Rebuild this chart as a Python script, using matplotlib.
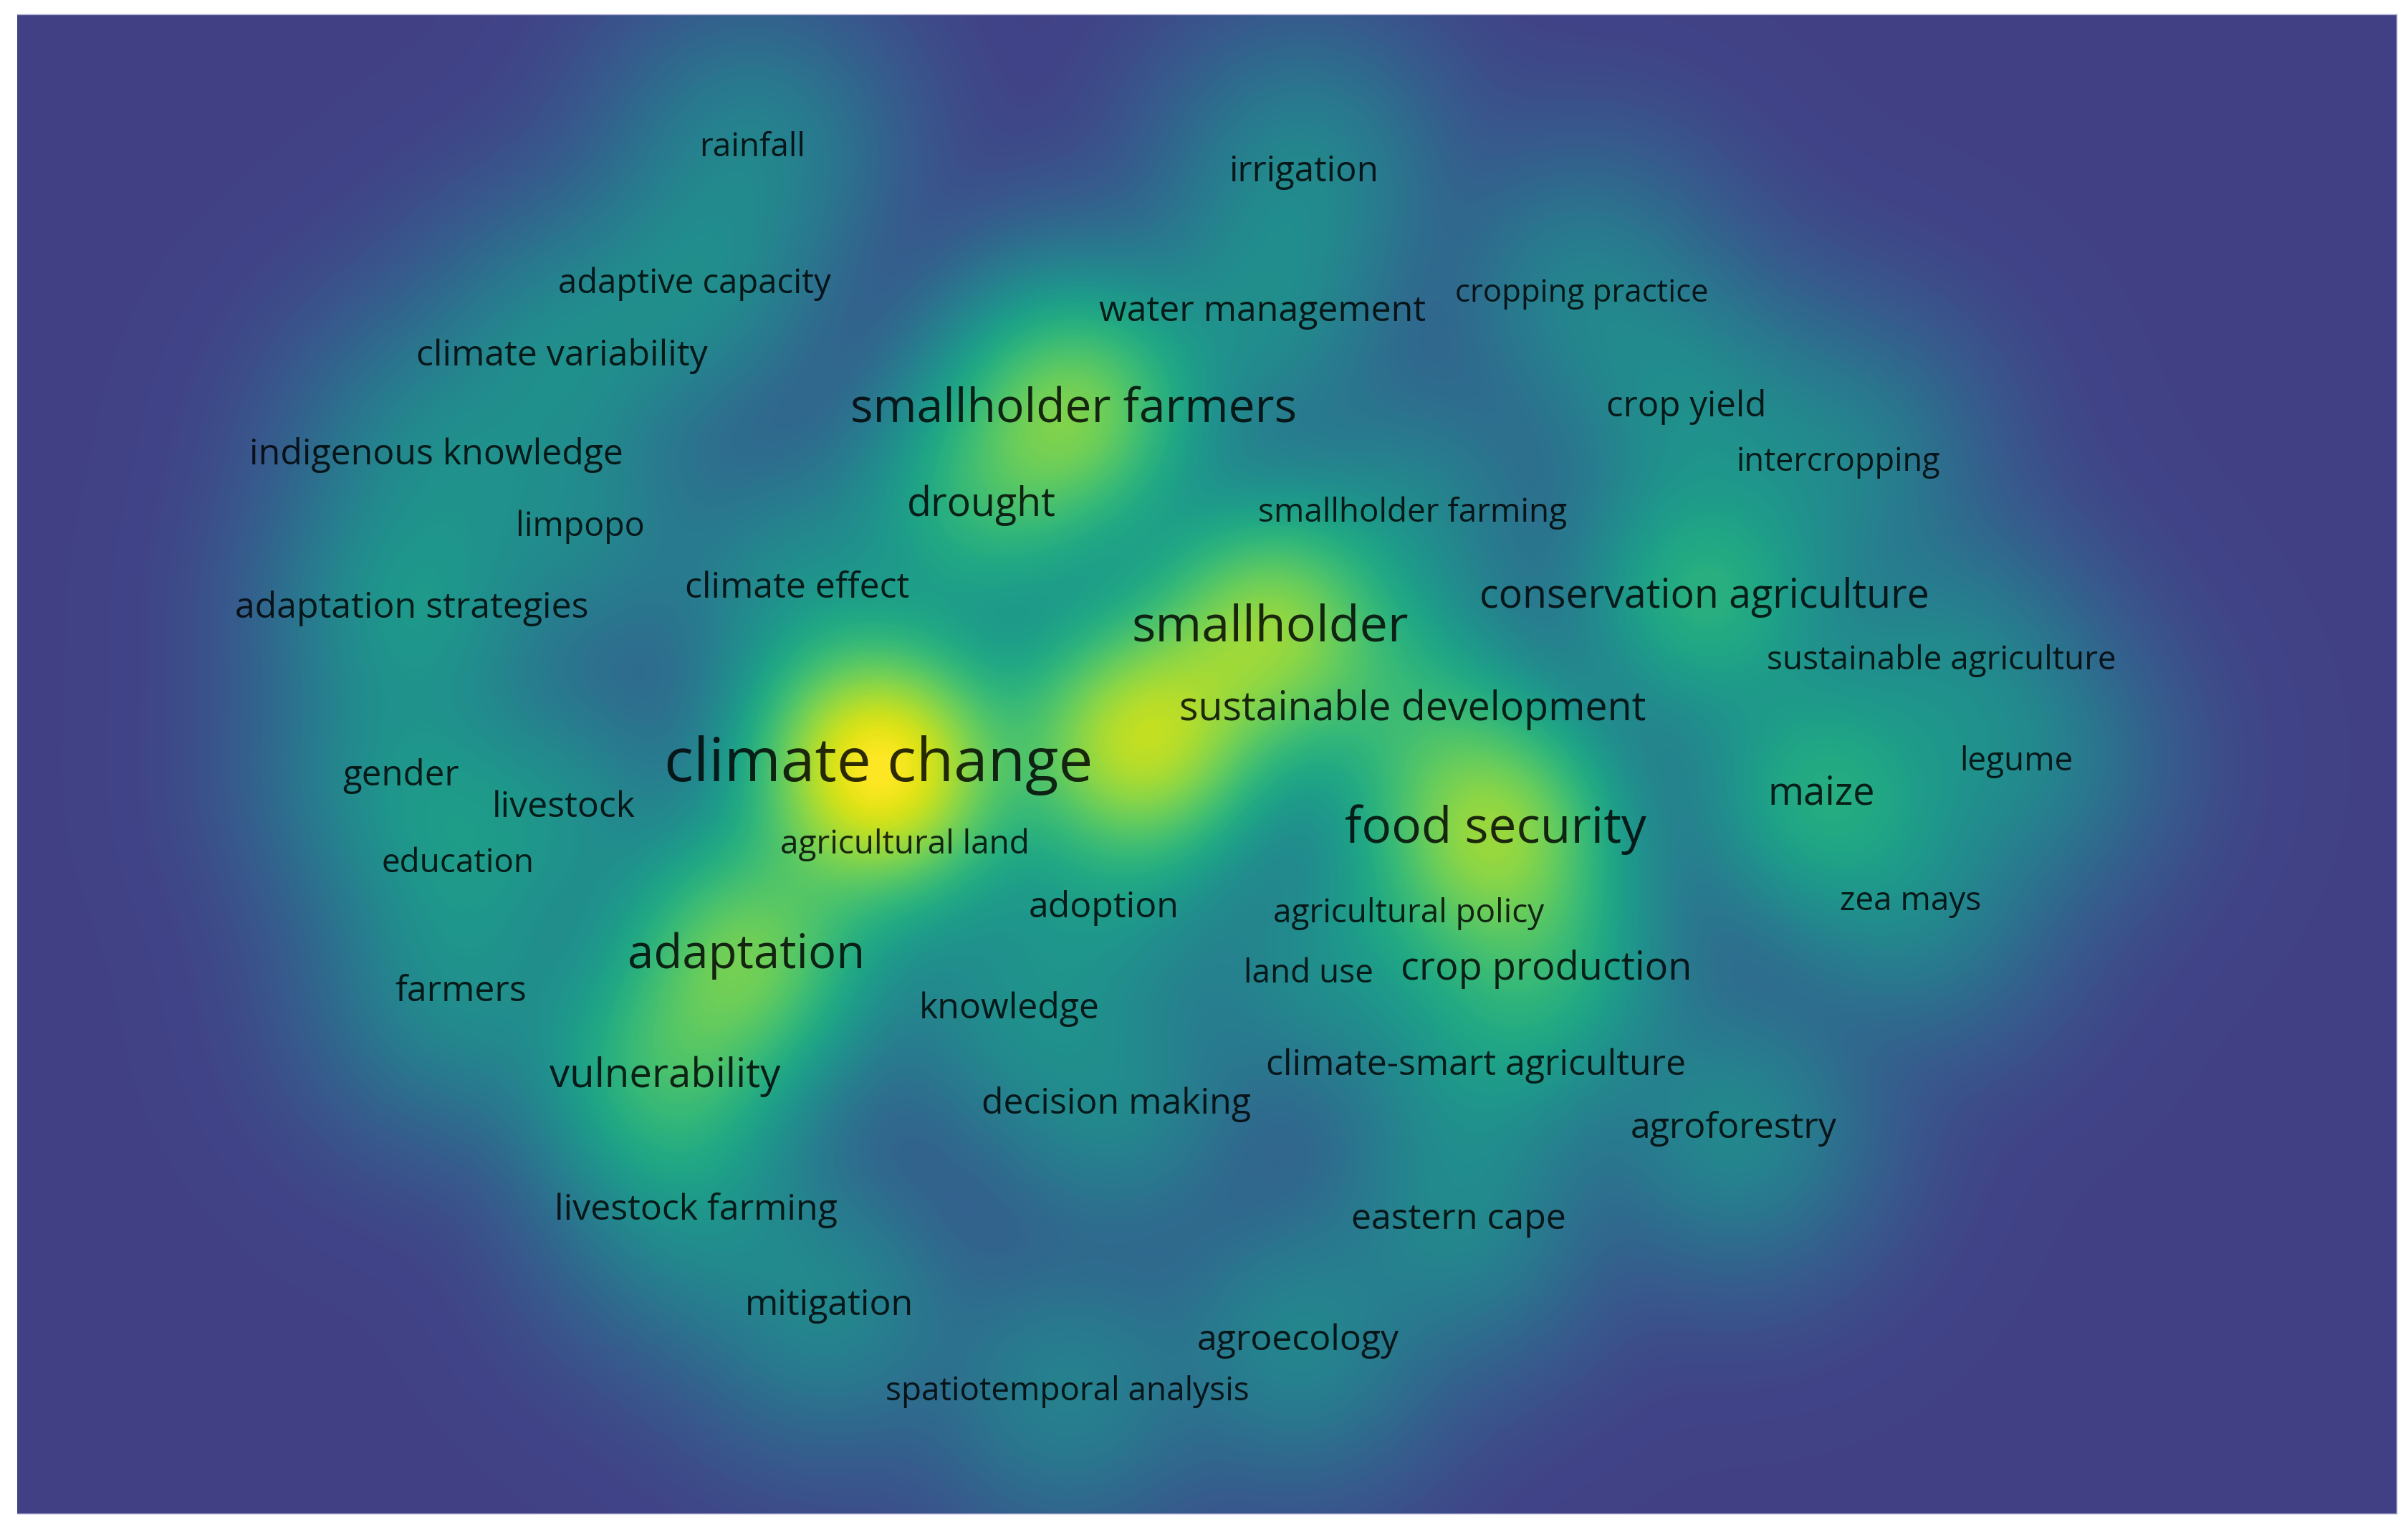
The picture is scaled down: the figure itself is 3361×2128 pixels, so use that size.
import numpy as np
import matplotlib
matplotlib.use("Agg")
import matplotlib.pyplot as plt
from matplotlib.colors import ListedColormap, PowerNorm

# ---- data: VOSviewer keyword density map (map coordinates = picture coordinates) ----
keywords = [
    "rainfall", "irrigation", "adaptive capacity", "water management", "cropping practice",
    "climate variability", "smallholder farmers", "crop yield", "indigenous knowledge",
    "intercropping", "drought", "smallholder farming", "limpopo", "adaptation strategies",
    "climate effect", "smallholder", "conservation agriculture", "sustainable agriculture",
    "sustainable development", "climate change", "gender", "livestock", "food security",
    "maize", "legume", "education", "agricultural land", "adoption", "agricultural policy",
    "zea mays", "adaptation", "farmers", "knowledge", "land use", "crop production",
    "vulnerability", "climate-smart agriculture", "decision making", "agroforestry",
    "livestock farming", "eastern cape", "mitigation", "agroecology", "spatiotemporal analysis",
    "",  # item whose label is hidden in the original map
]
kw_x = [490, 849, 452, 822, 1030, 366, 699, 1098, 284, 1197, 639, 920, 378, 268, 519, 827,
        1110, 1264, 920, 572, 261, 367, 974, 1186, 1313, 298, 589, 719, 917, 1244, 486, 300,
        657, 852, 1007, 433, 961, 727, 1129, 453, 950, 540, 845, 695, 742]
kw_y = [96, 112, 185, 203, 191, 232, 267, 265, 296, 301, 329, 334, 343, 396, 383, 409, 389,
        430, 462, 498, 505, 526, 540, 517, 496, 562, 550, 591, 595, 587, 622, 646, 657, 634,
        631, 701, 694, 719, 735, 788, 794, 850, 873, 906, 483]
occurrences = [8, 9, 10, 10, 8, 10, 52, 10, 9, 8, 24, 8, 8, 14, 10, 58, 27, 8, 20, 100, 10, 9,
               58, 24, 8, 9, 8, 10, 8, 8, 48, 10, 9, 8, 22, 30, 10, 9, 10, 9, 9, 9, 9, 8, 75]

# ---- styles ----
label_pt = [33, 35.5, 34, 36, 31.5, 36, 47.5, 35.5, 36, 32.5, 40, 33, 33.5, 36, 36, 50.5,
            40, 33, 40, 61.5, 35.5, 36, 50, 39, 33, 33, 33, 36, 33, 33, 47, 36, 36, 33, 39,
            40.5, 36, 36, 36, 36, 36, 36, 36, 33, 0]
SIGMA = 50.0
XLIM = (11.2, 1560.5)
YLIM = (985.3, 9.3)

W, H = 3361, 2128
fig = plt.figure(figsize=(W / 100, H / 100), dpi=100)
fig.patch.set_facecolor("white")
ax = fig.add_axes([24 / W, 1 - 2112 / H, (3345 - 24) / W, (2112 - 20) / H])

gx = np.linspace(XLIM[0], XLIM[1], 800)
gy = np.linspace(YLIM[1], YLIM[0], 505)
GX, GY = np.meshgrid(gx, gy)
dens = np.zeros_like(GX)
for x, y, w in zip(kw_x, kw_y, occurrences):
    dens += w * np.exp(-((GX - x) ** 2 + (GY - y) ** 2) / (2 * SIGMA ** 2))

cmap = ListedColormap(plt.cm.viridis(np.linspace(0.19, 1.0, 256)))
ax.imshow(dens, extent=(XLIM[0], XLIM[1], YLIM[0], YLIM[1]), origin="upper",
          cmap=cmap, norm=PowerNorm(gamma=0.46, vmin=0, vmax=dens.max()),
          interpolation="bilinear", aspect="auto")

for lab, x, y, fs in zip(keywords, kw_x, kw_y, label_pt):
    if lab:
        ax.text(x, y, lab, fontsize=fs, family="Open Sans", color="black", alpha=0.82,
                ha="center", va="center")

ax.set_xlim(*XLIM)
ax.set_ylim(*YLIM)
ax.set_xticks([])
ax.set_yticks([])
for side, sp in ax.spines.items():
    sp.set_color("#a9a7cf")
    sp.set_linewidth(1.0)
ax.spines["left"].set_visible(False)

fig.savefig("out.png", dpi=100)
